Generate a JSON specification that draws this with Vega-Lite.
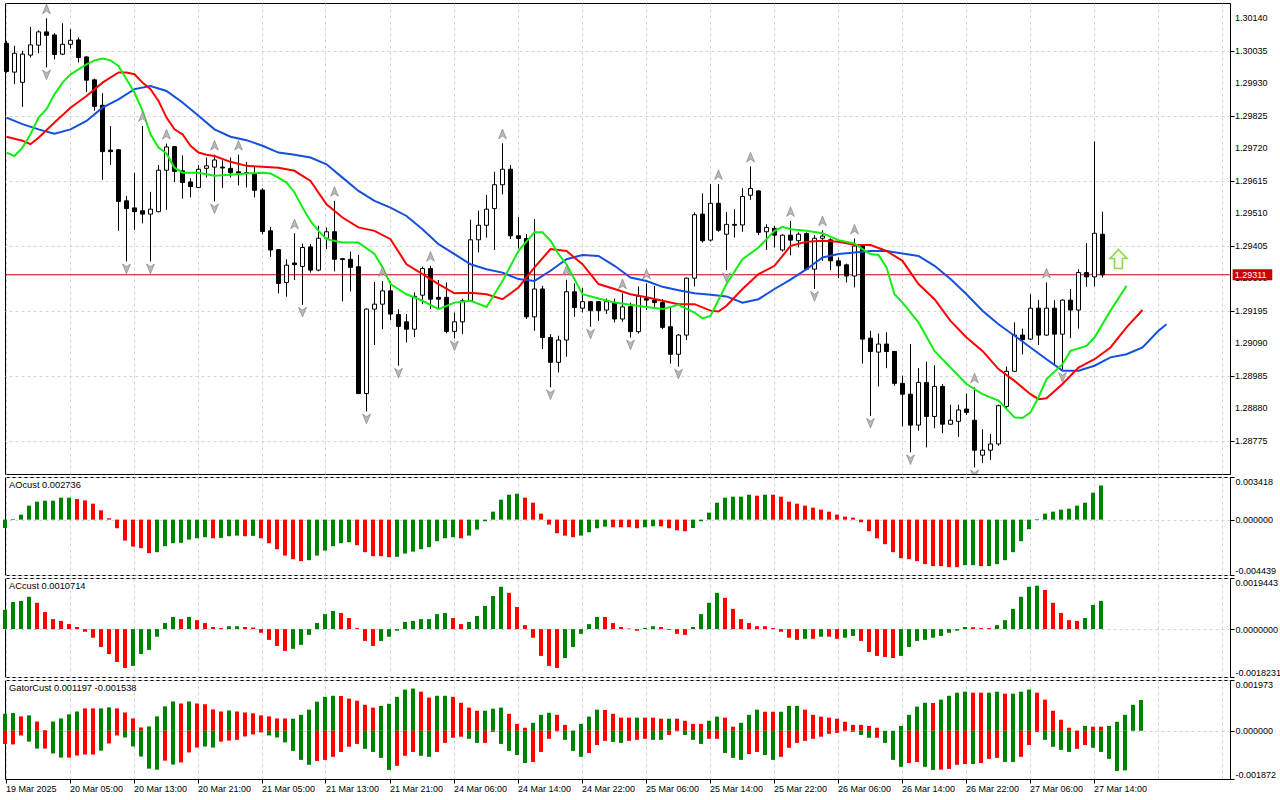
{
"$schema":"https://vega.github.io/schema/vega-lite/v6.json",
"background":"#ffffff",
"padding":{"left":2,"top":2,"right":0,"bottom":0},
"spacing":3,
"bounds":"flush",
"config":{"view":{"stroke":"#000000","strokeWidth":1},"scale":{"continuousPadding":0},"axis":{"labelFont":"Liberation Sans","labelFontSize":9,"labelColor":"#000000","labelOverlap":false,"gridColor":"#d4d4d4","gridDash":[3,3],"gridWidth":1,"tickColor":"#000000","domainColor":"#000000"}},
"datasets":{
"ylab":[{"p":1.28775},{"p":1.2888},{"p":1.28985},{"p":1.2909},{"p":1.29195},{"p":1.293},{"p":1.29405},{"p":1.2951},{"p":1.29615},{"p":1.2972},{"p":1.29825},{"p":1.2993},{"p":1.30035},{"p":1.3014}],
"bars":[
{"i":0,"o":1.30059,"h":1.30067,"l":1.29964,"c":1.29968},
{"i":1,"o":1.29966,"h":1.30051,"l":1.29927,"c":1.30027},
{"i":2,"o":1.29933,"h":1.30035,"l":1.29854,"c":1.30024},
{"i":3,"o":1.30021,"h":1.30112,"l":1.30013,"c":1.30054},
{"i":4,"o":1.30053,"h":1.30101,"l":1.30027,"c":1.30096},
{"i":5,"o":1.30096,"h":1.30140,"l":1.29981,"c":1.30085,"fu":1,"fd":1},
{"i":6,"o":1.30086,"h":1.30092,"l":1.30007,"c":1.30023},
{"i":7,"o":1.30024,"h":1.30124,"l":1.30021,"c":1.30056},
{"i":8,"o":1.30056,"h":1.30105,"l":1.30042,"c":1.30069},
{"i":9,"o":1.30070,"h":1.30078,"l":1.29997,"c":1.30013},
{"i":10,"o":1.30015,"h":1.30017,"l":1.29902,"c":1.29940},
{"i":11,"o":1.29941,"h":1.29945,"l":1.29841,"c":1.29855},
{"i":12,"o":1.29859,"h":1.29898,"l":1.29618,"c":1.29709},
{"i":13,"o":1.29714,"h":1.29792,"l":1.29666,"c":1.29709},
{"i":14,"o":1.29715,"h":1.29717,"l":1.29453,"c":1.29548},
{"i":15,"o":1.29550,"h":1.29566,"l":1.29354,"c":1.29525,"fd":1},
{"i":16,"o":1.29527,"h":1.29640,"l":1.29456,"c":1.29515},
{"i":17,"o":1.29518,"h":1.29792,"l":1.29477,"c":1.29507,"fu":1},
{"i":18,"o":1.29507,"h":1.29579,"l":1.29354,"c":1.29523,"fd":1},
{"i":19,"o":1.29515,"h":1.29666,"l":1.29513,"c":1.29649},
{"i":20,"o":1.29649,"h":1.29735,"l":1.29521,"c":1.29724,"fu":1},
{"i":21,"o":1.29725,"h":1.29727,"l":1.29611,"c":1.29645},
{"i":22,"o":1.29647,"h":1.29697,"l":1.29557,"c":1.29609},
{"i":23,"o":1.29611,"h":1.29623,"l":1.29561,"c":1.29596},
{"i":24,"o":1.29593,"h":1.29666,"l":1.29591,"c":1.29652},
{"i":25,"o":1.29655,"h":1.29690,"l":1.29625,"c":1.29663},
{"i":26,"o":1.29659,"h":1.29699,"l":1.29548,"c":1.29682,"fu":1,"fd":1},
{"i":27,"o":1.29659,"h":1.29681,"l":1.29591,"c":1.29656},
{"i":28,"o":1.29655,"h":1.29690,"l":1.29625,"c":1.29641},
{"i":29,"o":1.29644,"h":1.29699,"l":1.29600,"c":1.29639,"fu":1},
{"i":30,"o":1.29641,"h":1.29676,"l":1.29593,"c":1.29639},
{"i":31,"o":1.29636,"h":1.29662,"l":1.29561,"c":1.29584},
{"i":32,"o":1.29585,"h":1.29591,"l":1.29442,"c":1.29451},
{"i":33,"o":1.29453,"h":1.29466,"l":1.29369,"c":1.29391},
{"i":34,"o":1.29392,"h":1.29394,"l":1.29251,"c":1.29283},
{"i":35,"o":1.29286,"h":1.29361,"l":1.29240,"c":1.29342},
{"i":36,"o":1.29349,"h":1.29445,"l":1.29294,"c":1.29344,"fu":1},
{"i":37,"o":1.29338,"h":1.29412,"l":1.29214,"c":1.29399,"fd":1},
{"i":38,"o":1.29401,"h":1.29410,"l":1.29318,"c":1.29326},
{"i":39,"o":1.29326,"h":1.29469,"l":1.29322,"c":1.29429},
{"i":40,"o":1.29429,"h":1.29464,"l":1.29394,"c":1.29450},
{"i":41,"o":1.29450,"h":1.29550,"l":1.29322,"c":1.29361,"fu":1},
{"i":42,"o":1.29363,"h":1.29364,"l":1.29225,"c":1.29360},
{"i":43,"o":1.29361,"h":1.29386,"l":1.29257,"c":1.29335},
{"i":44,"o":1.29337,"h":1.29375,"l":1.28925,"c":1.28927},
{"i":45,"o":1.28927,"h":1.29202,"l":1.28869,"c":1.29200,"fd":1},
{"i":46,"o":1.29200,"h":1.29288,"l":1.29084,"c":1.29216},
{"i":47,"o":1.29216,"h":1.29291,"l":1.29135,"c":1.29259,"fu":1},
{"i":48,"o":1.29259,"h":1.29289,"l":1.29164,"c":1.29184},
{"i":49,"o":1.29182,"h":1.29200,"l":1.29017,"c":1.29144,"fd":1},
{"i":50,"o":1.29159,"h":1.29184,"l":1.29092,"c":1.29135},
{"i":51,"o":1.29135,"h":1.29254,"l":1.29110,"c":1.29241},
{"i":52,"o":1.29245,"h":1.29338,"l":1.29216,"c":1.29331},
{"i":53,"o":1.29331,"h":1.29340,"l":1.29200,"c":1.29232,"fu":1},
{"i":54,"o":1.29238,"h":1.29294,"l":1.29200,"c":1.29232},
{"i":55,"o":1.29238,"h":1.29286,"l":1.29122,"c":1.29128},
{"i":56,"o":1.29128,"h":1.29189,"l":1.29105,"c":1.29159,"fd":1},
{"i":57,"o":1.29159,"h":1.29234,"l":1.29119,"c":1.29227},
{"i":58,"o":1.29227,"h":1.29489,"l":1.29225,"c":1.29424},
{"i":59,"o":1.29424,"h":1.29518,"l":1.29383,"c":1.29471},
{"i":60,"o":1.29471,"h":1.29569,"l":1.29431,"c":1.29523},
{"i":61,"o":1.29525,"h":1.29644,"l":1.29391,"c":1.29602},
{"i":62,"o":1.29602,"h":1.29736,"l":1.29571,"c":1.29652,"fu":1},
{"i":63,"o":1.29652,"h":1.29666,"l":1.29426,"c":1.29437},
{"i":64,"o":1.29437,"h":1.29498,"l":1.29396,"c":1.29428},
{"i":65,"o":1.29428,"h":1.29442,"l":1.29168,"c":1.29175},
{"i":66,"o":1.29175,"h":1.29491,"l":1.29130,"c":1.29265},
{"i":67,"o":1.29265,"h":1.29275,"l":1.29071,"c":1.29108},
{"i":68,"o":1.29108,"h":1.29119,"l":1.28947,"c":1.29028,"fd":1},
{"i":69,"o":1.29028,"h":1.29114,"l":1.28995,"c":1.29100},
{"i":70,"o":1.29100,"h":1.29295,"l":1.29046,"c":1.29256,"fu":1},
{"i":71,"o":1.29256,"h":1.29283,"l":1.29175,"c":1.29205},
{"i":72,"o":1.29203,"h":1.29268,"l":1.29189,"c":1.29224},
{"i":73,"o":1.29224,"h":1.29226,"l":1.29143,"c":1.29195,"fd":1},
{"i":74,"o":1.29224,"h":1.29226,"l":1.29162,"c":1.29195},
{"i":75,"o":1.29197,"h":1.29234,"l":1.29184,"c":1.29224},
{"i":76,"o":1.29221,"h":1.29234,"l":1.29157,"c":1.29168},
{"i":77,"o":1.29168,"h":1.29251,"l":1.29159,"c":1.29207,"fu":1},
{"i":78,"o":1.29208,"h":1.29221,"l":1.29108,"c":1.29127,"fd":1},
{"i":79,"o":1.29127,"h":1.29273,"l":1.29121,"c":1.29241},
{"i":80,"o":1.29234,"h":1.29283,"l":1.29197,"c":1.29229,"fu":1},
{"i":81,"o":1.29229,"h":1.29275,"l":1.29207,"c":1.29221},
{"i":82,"o":1.29221,"h":1.29232,"l":1.29135,"c":1.29141},
{"i":83,"o":1.29143,"h":1.29207,"l":1.29024,"c":1.29054},
{"i":84,"o":1.29054,"h":1.29119,"l":1.29014,"c":1.29116,"fd":1},
{"i":85,"o":1.29116,"h":1.29302,"l":1.29100,"c":1.29300},
{"i":86,"o":1.29300,"h":1.29512,"l":1.29273,"c":1.29505},
{"i":87,"o":1.29507,"h":1.29574,"l":1.29415,"c":1.29421},
{"i":88,"o":1.29423,"h":1.29604,"l":1.29418,"c":1.29542},
{"i":89,"o":1.29542,"h":1.29604,"l":1.29450,"c":1.29455,"fu":1},
{"i":90,"o":1.29442,"h":1.29514,"l":1.29326,"c":1.29474,"fd":1},
{"i":91,"o":1.29474,"h":1.29523,"l":1.29431,"c":1.29471},
{"i":92,"o":1.29472,"h":1.29591,"l":1.29450,"c":1.29564},
{"i":93,"o":1.29568,"h":1.29661,"l":1.29553,"c":1.29590,"fu":1},
{"i":94,"o":1.29582,"h":1.29584,"l":1.29439,"c":1.29448},
{"i":95,"o":1.29450,"h":1.29474,"l":1.29391,"c":1.29464},
{"i":96,"o":1.29461,"h":1.29469,"l":1.29399,"c":1.29439},
{"i":97,"o":1.29391,"h":1.29442,"l":1.29386,"c":1.29439},
{"i":98,"o":1.29439,"h":1.29485,"l":1.29374,"c":1.29423,"fu":1},
{"i":99,"o":1.29421,"h":1.29448,"l":1.29399,"c":1.29442},
{"i":100,"o":1.29444,"h":1.29448,"l":1.29326,"c":1.29329},
{"i":101,"o":1.29329,"h":1.29439,"l":1.29265,"c":1.29429,"fd":1},
{"i":102,"o":1.29429,"h":1.29455,"l":1.29356,"c":1.29436,"fu":1},
{"i":103,"o":1.29424,"h":1.29429,"l":1.29326,"c":1.29356},
{"i":104,"o":1.29356,"h":1.29367,"l":1.29300,"c":1.29340},
{"i":105,"o":1.29343,"h":1.29347,"l":1.29286,"c":1.29307},
{"i":106,"o":1.29307,"h":1.29428,"l":1.29270,"c":1.29404,"fu":1},
{"i":107,"o":1.29404,"h":1.29407,"l":1.29024,"c":1.29103},
{"i":108,"o":1.29106,"h":1.29130,"l":1.28855,"c":1.29063,"fd":1},
{"i":109,"o":1.29061,"h":1.29121,"l":1.28950,"c":1.29087},
{"i":110,"o":1.29087,"h":1.29125,"l":1.29009,"c":1.29063},
{"i":111,"o":1.29063,"h":1.29065,"l":1.28952,"c":1.28960},
{"i":112,"o":1.28960,"h":1.28985,"l":1.28821,"c":1.28925},
{"i":113,"o":1.28925,"h":1.29087,"l":1.28737,"c":1.28825,"fd":1},
{"i":114,"o":1.28825,"h":1.29009,"l":1.28807,"c":1.28963},
{"i":115,"o":1.28963,"h":1.29030,"l":1.28753,"c":1.28853},
{"i":116,"o":1.28853,"h":1.29019,"l":1.28815,"c":1.28950},
{"i":117,"o":1.28950,"h":1.28958,"l":1.28799,"c":1.28828},
{"i":118,"o":1.28828,"h":1.28891,"l":1.28826,"c":1.28841},
{"i":119,"o":1.28837,"h":1.28891,"l":1.28787,"c":1.28874},
{"i":120,"o":1.28877,"h":1.28927,"l":1.28858,"c":1.28866},
{"i":121,"o":1.28841,"h":1.28947,"l":1.28688,"c":1.28744,"fu":1,"fd":1},
{"i":122,"o":1.28728,"h":1.28812,"l":1.28702,"c":1.28744},
{"i":123,"o":1.28744,"h":1.28796,"l":1.28712,"c":1.28764},
{"i":124,"o":1.28764,"h":1.28891,"l":1.28758,"c":1.28888},
{"i":125,"o":1.28885,"h":1.29014,"l":1.28880,"c":1.28999},
{"i":126,"o":1.28999,"h":1.29157,"l":1.28997,"c":1.29116},
{"i":127,"o":1.29116,"h":1.29137,"l":1.29054,"c":1.29101},
{"i":128,"o":1.29103,"h":1.29248,"l":1.29101,"c":1.29203},
{"i":129,"o":1.29203,"h":1.29230,"l":1.29084,"c":1.29116},
{"i":130,"o":1.29116,"h":1.29286,"l":1.29114,"c":1.29203,"fu":1},
{"i":131,"o":1.29203,"h":1.29229,"l":1.29022,"c":1.29119},
{"i":132,"o":1.29119,"h":1.29232,"l":1.29003,"c":1.29229,"fd":1},
{"i":133,"o":1.29229,"h":1.29265,"l":1.29106,"c":1.29197},
{"i":134,"o":1.29197,"h":1.29329,"l":1.29137,"c":1.29318},
{"i":135,"o":1.29318,"h":1.29413,"l":1.29272,"c":1.29304},
{"i":136,"o":1.29304,"h":1.29742,"l":1.29273,"c":1.29445},
{"i":137,"o":1.29442,"h":1.29515,"l":1.29302,"c":1.29311}
],
"jaw":[
{"i":0,"v":1.29819},{"i":2,"v":1.29798},{"i":4,"v":1.29781},{"i":6,"v":1.29767},{"i":8,"v":1.29781},{"i":10,"v":1.29808},{"i":12,"v":1.29851},{"i":14,"v":1.29878},{"i":16,"v":1.29911},{"i":18,"v":1.29921},{"i":20,"v":1.29905},{"i":22,"v":1.29868},{"i":24,"v":1.29825},{"i":26,"v":1.29781},{"i":28,"v":1.29757},{"i":30,"v":1.29746},{"i":32,"v":1.29728},{"i":34,"v":1.29706},{"i":36,"v":1.29699},{"i":38,"v":1.29690},{"i":40,"v":1.29668},{"i":42,"v":1.29625},{"i":44,"v":1.29582},{"i":46,"v":1.29550},{"i":48,"v":1.29528},{"i":50,"v":1.29501},{"i":52,"v":1.29458},{"i":54,"v":1.29410},{"i":56,"v":1.29378},{"i":58,"v":1.29345},{"i":60,"v":1.29329},{"i":62,"v":1.29318},{"i":64,"v":1.29297},{"i":66,"v":1.29291},{"i":68,"v":1.29324},{"i":70,"v":1.29361},{"i":72,"v":1.29375},{"i":74,"v":1.29372},{"i":76,"v":1.29340},{"i":78,"v":1.29302},{"i":80,"v":1.29291},{"i":82,"v":1.29272},{"i":84,"v":1.29261},{"i":86,"v":1.29251},{"i":88,"v":1.29246},{"i":90,"v":1.29241},{"i":92,"v":1.29221},{"i":94,"v":1.29232},{"i":96,"v":1.29265},{"i":98,"v":1.29295},{"i":100,"v":1.29329},{"i":102,"v":1.29367},{"i":104,"v":1.29378},{"i":106,"v":1.29383},{"i":108,"v":1.29388},{"i":110,"v":1.29388},{"i":112,"v":1.29380},{"i":114,"v":1.29372},{"i":116,"v":1.29340},{"i":118,"v":1.29297},{"i":120,"v":1.29248},{"i":122,"v":1.29195},{"i":124,"v":1.29151},{"i":126,"v":1.29114},{"i":128,"v":1.29076},{"i":130,"v":1.29038},{"i":132,"v":1.29001},{"i":134,"v":1.29001},{"i":136,"v":1.29017},{"i":138,"v":1.29044},{"i":140,"v":1.29054},{"i":142,"v":1.29076},{"i":144,"v":1.29130},{"i":145,"v":1.29151}
],
"teeth":[
{"i":0,"v":1.29757},{"i":2,"v":1.29744},{"i":3,"v":1.29733},{"i":4,"v":1.29754},{"i":6,"v":1.29803},{"i":8,"v":1.29851},{"i":10,"v":1.29889},{"i":12,"v":1.29932},{"i":14,"v":1.29965},{"i":15,"v":1.29965},{"i":16,"v":1.29959},{"i":17,"v":1.29932},{"i":18,"v":1.29911},{"i":19,"v":1.29873},{"i":20,"v":1.29819},{"i":21,"v":1.29781},{"i":22,"v":1.29765},{"i":23,"v":1.29728},{"i":24,"v":1.29706},{"i":25,"v":1.29699},{"i":26,"v":1.29695},{"i":28,"v":1.29676},{"i":30,"v":1.29663},{"i":32,"v":1.29660},{"i":34,"v":1.29657},{"i":36,"v":1.29647},{"i":38,"v":1.29614},{"i":40,"v":1.29539},{"i":42,"v":1.29496},{"i":44,"v":1.29464},{"i":46,"v":1.29453},{"i":48,"v":1.29426},{"i":50,"v":1.29345},{"i":52,"v":1.29313},{"i":54,"v":1.29281},{"i":56,"v":1.29251},{"i":58,"v":1.29253},{"i":60,"v":1.29248},{"i":62,"v":1.29232},{"i":64,"v":1.29270},{"i":66,"v":1.29335},{"i":68,"v":1.29394},{"i":70,"v":1.29388},{"i":72,"v":1.29345},{"i":74,"v":1.29281},{"i":76,"v":1.29265},{"i":78,"v":1.29248},{"i":80,"v":1.29238},{"i":82,"v":1.29227},{"i":84,"v":1.29216},{"i":86,"v":1.29216},{"i":88,"v":1.29195},{"i":89,"v":1.29192},{"i":90,"v":1.29211},{"i":92,"v":1.29265},{"i":94,"v":1.29313},{"i":96,"v":1.29340},{"i":98,"v":1.29404},{"i":100,"v":1.29418},{"i":102,"v":1.29421},{"i":104,"v":1.29418},{"i":106,"v":1.29408},{"i":108,"v":1.29407},{"i":110,"v":1.29388},{"i":112,"v":1.29356},{"i":114,"v":1.29281},{"i":116,"v":1.29232},{"i":118,"v":1.29162},{"i":120,"v":1.29108},{"i":122,"v":1.29065},{"i":124,"v":1.29006},{"i":126,"v":1.28968},{"i":128,"v":1.28925},{"i":129,"v":1.28909},{"i":130,"v":1.28912},{"i":132,"v":1.28958},{"i":134,"v":1.29011},{"i":136,"v":1.29038},{"i":138,"v":1.29076},{"i":140,"v":1.29141},{"i":142,"v":1.29197}
],
"lips":[
{"i":0,"v":1.29706},{"i":1,"v":1.29695},{"i":2,"v":1.29722},{"i":3,"v":1.29765},{"i":4,"v":1.29819},{"i":5,"v":1.29846},{"i":6,"v":1.29894},{"i":7,"v":1.29932},{"i":8,"v":1.29959},{"i":9,"v":1.29975},{"i":10,"v":1.29991},{"i":11,"v":1.30004},{"i":12,"v":1.30010},{"i":13,"v":1.30004},{"i":14,"v":1.29986},{"i":15,"v":1.29943},{"i":16,"v":1.29900},{"i":17,"v":1.29841},{"i":18,"v":1.29765},{"i":19,"v":1.29722},{"i":20,"v":1.29703},{"i":21,"v":1.29657},{"i":22,"v":1.29641},{"i":24,"v":1.29641},{"i":25,"v":1.29636},{"i":26,"v":1.29631},{"i":28,"v":1.29634},{"i":30,"v":1.29638},{"i":32,"v":1.29641},{"i":33,"v":1.29638},{"i":34,"v":1.29625},{"i":35,"v":1.29609},{"i":36,"v":1.29577},{"i":37,"v":1.29528},{"i":38,"v":1.29485},{"i":39,"v":1.29453},{"i":40,"v":1.29426},{"i":42,"v":1.29415},{"i":44,"v":1.29415},{"i":46,"v":1.29378},{"i":47,"v":1.29335},{"i":48,"v":1.29281},{"i":50,"v":1.29248},{"i":52,"v":1.29227},{"i":54,"v":1.29200},{"i":56,"v":1.29221},{"i":58,"v":1.29227},{"i":60,"v":1.29207},{"i":62,"v":1.29291},{"i":64,"v":1.29388},{"i":66,"v":1.29448},{"i":67,"v":1.29448},{"i":68,"v":1.29421},{"i":69,"v":1.29378},{"i":70,"v":1.29345},{"i":72,"v":1.29248},{"i":74,"v":1.29234},{"i":76,"v":1.29221},{"i":78,"v":1.29214},{"i":80,"v":1.29207},{"i":82,"v":1.29200},{"i":84,"v":1.29214},{"i":86,"v":1.29189},{"i":87,"v":1.29170},{"i":88,"v":1.29178},{"i":90,"v":1.29281},{"i":92,"v":1.29361},{"i":94,"v":1.29399},{"i":96,"v":1.29453},{"i":97,"v":1.29466},{"i":98,"v":1.29458},{"i":100,"v":1.29453},{"i":102,"v":1.29445},{"i":104,"v":1.29423},{"i":106,"v":1.29412},{"i":107,"v":1.29394},{"i":108,"v":1.29378},{"i":109,"v":1.29375},{"i":110,"v":1.29335},{"i":111,"v":1.29248},{"i":112,"v":1.29221},{"i":114,"v":1.29157},{"i":116,"v":1.29065},{"i":118,"v":1.29011},{"i":120,"v":1.28958},{"i":122,"v":1.28925},{"i":124,"v":1.28904},{"i":126,"v":1.28850},{"i":127,"v":1.28848},{"i":128,"v":1.28866},{"i":129,"v":1.28915},{"i":130,"v":1.28974},{"i":132,"v":1.29022},{"i":133,"v":1.29065},{"i":135,"v":1.29081},{"i":136,"v":1.29108},{"i":138,"v":1.29195},{"i":140,"v":1.29275}
],
"osc":[
{"i":0,"ao":-0.00067,"a1":"g","ac":0.00073,"a2":"g","gu":0.00066,"g1":"g","gd":-0.00051,"g2":"r"},
{"i":1,"ao":0.00005,"a1":"g","ac":0.00103,"a2":"g","gu":0.00069,"g1":"g","gd":-0.00053,"g2":"r"},
{"i":2,"ao":0.0004,"a1":"g","ac":0.00107,"a2":"g","gu":0.00056,"g1":"r","gd":-0.00018,"g2":"r"},
{"i":3,"ao":0.00112,"a1":"g","ac":0.00123,"a2":"g","gu":0.0006,"g1":"g","gd":-0.00042,"g2":"g"},
{"i":4,"ao":0.00144,"a1":"g","ac":0.001,"a2":"r","gu":0.00036,"g1":"r","gd":-0.00069,"g2":"g"},
{"i":5,"ao":0.00152,"a1":"g","ac":0.00065,"a2":"r","gu":0.00003,"g1":"r","gd":-0.00069,"g2":"r"},
{"i":6,"ao":0.00152,"a1":"g","ac":0.00038,"a2":"r","gu":0.00036,"g1":"g","gd":-0.00088,"g2":"g"},
{"i":7,"ao":0.00176,"a1":"g","ac":0.00031,"a2":"r","gu":0.00048,"g1":"g","gd":-0.00104,"g2":"g"},
{"i":8,"ao":0.00176,"a1":"g","ac":0.00019,"a2":"r","gu":0.00064,"g1":"g","gd":-0.00104,"g2":"r"},
{"i":9,"ao":0.00165,"a1":"r","ac":0.00008,"a2":"r","gu":0.00075,"g1":"g","gd":-0.00096,"g2":"r"},
{"i":10,"ao":0.00154,"a1":"r","ac":-0.0001,"a2":"r","gu":0.00087,"g1":"r","gd":-0.00092,"g2":"r"},
{"i":11,"ao":0.00128,"a1":"r","ac":-0.00033,"a2":"r","gu":0.00087,"g1":"r","gd":-0.00092,"g2":"r"},
{"i":12,"ao":0.00075,"a1":"r","ac":-0.00068,"a2":"r","gu":0.00087,"g1":"g","gd":-0.00077,"g2":"g"},
{"i":13,"ao":0.00011,"a1":"r","ac":-0.00095,"a2":"r","gu":0.00091,"g1":"g","gd":-0.00049,"g2":"r"},
{"i":14,"ao":-0.00069,"a1":"r","ac":-0.00125,"a2":"r","gu":0.00087,"g1":"r","gd":-0.00018,"g2":"r"},
{"i":15,"ao":-0.00168,"a1":"r","ac":-0.00148,"a2":"r","gu":0.00071,"g1":"r","gd":-0.00026,"g2":"g"},
{"i":16,"ao":-0.00216,"a1":"r","ac":-0.0014,"a2":"g","gu":0.00048,"g1":"r","gd":-0.00061,"g2":"g"},
{"i":17,"ao":-0.00229,"a1":"r","ac":-0.00095,"a2":"g","gu":0.00013,"g1":"r","gd":-0.001,"g2":"g"},
{"i":18,"ao":-0.00269,"a1":"r","ac":-0.00079,"a2":"g","gu":0.00017,"g1":"g","gd":-0.00147,"g2":"g"},
{"i":19,"ao":-0.00261,"a1":"g","ac":-0.00029,"a2":"g","gu":0.00056,"g1":"g","gd":-0.00151,"g2":"g"},
{"i":20,"ao":-0.00213,"a1":"g","ac":0.00023,"a2":"g","gu":0.00095,"g1":"g","gd":-0.00116,"g2":"r"},
{"i":21,"ao":-0.00189,"a1":"g","ac":0.00046,"a2":"g","gu":0.00114,"g1":"g","gd":-0.00131,"g2":"g"},
{"i":22,"ao":-0.00186,"a1":"g","ac":0.00038,"a2":"r","gu":0.00106,"g1":"r","gd":-0.00123,"g2":"r"},
{"i":23,"ao":-0.0016,"a1":"g","ac":0.00046,"a2":"g","gu":0.00114,"g1":"g","gd":-0.00084,"g2":"r"},
{"i":24,"ao":-0.00149,"a1":"g","ac":0.00034,"a2":"r","gu":0.00106,"g1":"r","gd":-0.00065,"g2":"r"},
{"i":25,"ao":-0.00141,"a1":"g","ac":0.00023,"a2":"r","gu":0.00103,"g1":"r","gd":-0.00061,"g2":"g"},
{"i":26,"ao":-0.00149,"a1":"r","ac":0.00008,"a2":"r","gu":0.00083,"g1":"r","gd":-0.00065,"g2":"g"},
{"i":27,"ao":-0.00146,"a1":"g","ac":0.00004,"a2":"r","gu":0.00075,"g1":"r","gd":-0.00042,"g2":"r"},
{"i":28,"ao":-0.00133,"a1":"g","ac":0.00011,"a2":"g","gu":0.00079,"g1":"g","gd":-0.00038,"g2":"r"},
{"i":29,"ao":-0.00128,"a1":"g","ac":0.00011,"a2":"g","gu":0.00075,"g1":"r","gd":-0.00035,"g2":"r"},
{"i":30,"ao":-0.00133,"a1":"r","ac":0.00008,"a2":"r","gu":0.00071,"g1":"r","gd":-0.00022,"g2":"r"},
{"i":31,"ao":-0.0013,"a1":"g","ac":0.00006,"a2":"r","gu":0.00068,"g1":"r","gd":-0.00014,"g2":"r"},
{"i":32,"ao":-0.00149,"a1":"r","ac":-0.00014,"a2":"r","gu":0.0006,"g1":"r","gd":-0.00006,"g2":"r"},
{"i":33,"ao":-0.00189,"a1":"r","ac":-0.00041,"a2":"r","gu":0.00056,"g1":"r","gd":-0.00018,"g2":"g"},
{"i":34,"ao":-0.00237,"a1":"r","ac":-0.00064,"a2":"r","gu":0.00048,"g1":"r","gd":-0.00026,"g2":"g"},
{"i":35,"ao":-0.00288,"a1":"r","ac":-0.00083,"a2":"r","gu":0.00048,"g1":"r","gd":-0.00045,"g2":"g"},
{"i":36,"ao":-0.00317,"a1":"r","ac":-0.00075,"a2":"g","gu":0.00047,"g1":"g","gd":-0.00078,"g2":"g"},
{"i":37,"ao":-0.00333,"a1":"r","ac":-0.0006,"a2":"g","gu":0.00062,"g1":"g","gd":-0.00113,"g2":"g"},
{"i":38,"ao":-0.00325,"a1":"g","ac":-0.00022,"a2":"g","gu":0.00082,"g1":"g","gd":-0.00132,"g2":"g"},
{"i":39,"ao":-0.00288,"a1":"g","ac":0.00023,"a2":"g","gu":0.00113,"g1":"g","gd":-0.00117,"g2":"r"},
{"i":40,"ao":-0.00248,"a1":"g","ac":0.00057,"a2":"g","gu":0.00132,"g1":"g","gd":-0.00113,"g2":"r"},
{"i":41,"ao":-0.00213,"a1":"g","ac":0.00069,"a2":"g","gu":0.00136,"g1":"g","gd":-0.00101,"g2":"r"},
{"i":42,"ao":-0.00189,"a1":"g","ac":0.00061,"a2":"r","gu":0.00135,"g1":"r","gd":-0.00082,"g2":"r"},
{"i":43,"ao":-0.00181,"a1":"g","ac":0.00042,"a2":"r","gu":0.00125,"g1":"r","gd":-0.00062,"g2":"r"},
{"i":44,"ao":-0.00205,"a1":"r","ac":0.00004,"a2":"r","gu":0.00117,"g1":"r","gd":-0.00051,"g2":"r"},
{"i":45,"ao":-0.00261,"a1":"r","ac":-0.00045,"a2":"r","gu":0.00101,"g1":"r","gd":-0.0007,"g2":"g"},
{"i":46,"ao":-0.00293,"a1":"r","ac":-0.00064,"a2":"r","gu":0.0009,"g1":"r","gd":-0.00082,"g2":"g"},
{"i":47,"ao":-0.00293,"a1":"r","ac":-0.00045,"a2":"g","gu":0.00097,"g1":"g","gd":-0.00105,"g2":"g"},
{"i":48,"ao":-0.00301,"a1":"r","ac":-0.00029,"a2":"g","gu":0.00105,"g1":"g","gd":-0.00152,"g2":"g"},
{"i":49,"ao":-0.00298,"a1":"g","ac":-0.00006,"a2":"g","gu":0.00132,"g1":"g","gd":-0.00136,"g2":"r"},
{"i":50,"ao":-0.00272,"a1":"g","ac":0.00027,"a2":"g","gu":0.0016,"g1":"g","gd":-0.00097,"g2":"r"},
{"i":51,"ao":-0.00256,"a1":"g","ac":0.00031,"a2":"g","gu":0.00164,"g1":"g","gd":-0.00082,"g2":"r"},
{"i":52,"ao":-0.00237,"a1":"g","ac":0.00038,"a2":"g","gu":0.00152,"g1":"r","gd":-0.00097,"g2":"g"},
{"i":53,"ao":-0.00221,"a1":"g","ac":0.00038,"a2":"g","gu":0.00129,"g1":"r","gd":-0.00101,"g2":"g"},
{"i":54,"ao":-0.00173,"a1":"g","ac":0.00057,"a2":"g","gu":0.00136,"g1":"g","gd":-0.00082,"g2":"r"},
{"i":55,"ao":-0.00149,"a1":"g","ac":0.00061,"a2":"g","gu":0.00136,"g1":"g","gd":-0.00047,"g2":"r"},
{"i":56,"ao":-0.00141,"a1":"g","ac":0.00042,"a2":"r","gu":0.00132,"g1":"r","gd":-0.00027,"g2":"r"},
{"i":57,"ao":-0.00149,"a1":"r","ac":0.00019,"a2":"r","gu":0.00109,"g1":"r","gd":-0.00023,"g2":"r"},
{"i":58,"ao":-0.00128,"a1":"g","ac":0.00027,"a2":"g","gu":0.0009,"g1":"r","gd":-0.00031,"g2":"g"},
{"i":59,"ao":-0.0008,"a1":"g","ac":0.0005,"a2":"g","gu":0.00078,"g1":"r","gd":-0.00047,"g2":"g"},
{"i":60,"ao":-0.00013,"a1":"g","ac":0.00088,"a2":"g","gu":0.00078,"g1":"g","gd":-0.00047,"g2":"r"},
{"i":61,"ao":0.00064,"a1":"g","ac":0.00126,"a2":"g","gu":0.00086,"g1":"g","gd":-0.00004,"g2":"r"},
{"i":62,"ao":0.0016,"a1":"g","ac":0.00161,"a2":"g","gu":0.0009,"g1":"g","gd":-0.00051,"g2":"g"},
{"i":63,"ao":0.002,"a1":"g","ac":0.00138,"a2":"r","gu":0.00066,"g1":"r","gd":-0.00078,"g2":"g"},
{"i":64,"ao":0.00208,"a1":"g","ac":0.00084,"a2":"r","gu":0.00027,"g1":"r","gd":-0.00094,"g2":"g"},
{"i":65,"ao":0.00176,"a1":"r","ac":0.00015,"a2":"r","gu":0.00012,"g1":"r","gd":-0.00125,"g2":"g"},
{"i":66,"ao":0.00136,"a1":"r","ac":-0.00033,"a2":"r","gu":0.00031,"g1":"g","gd":-0.00121,"g2":"r"},
{"i":67,"ao":0.00048,"a1":"r","ac":-0.00102,"a2":"r","gu":0.00062,"g1":"g","gd":-0.00082,"g2":"r"},
{"i":68,"ao":-0.0004,"a1":"r","ac":-0.0014,"a2":"r","gu":0.0007,"g1":"g","gd":-0.00031,"g2":"r"},
{"i":69,"ao":-0.00109,"a1":"r","ac":-0.00148,"a2":"r","gu":0.00062,"g1":"r","gd":-0.00002,"g2":"r"},
{"i":70,"ao":-0.00128,"a1":"r","ac":-0.0011,"a2":"g","gu":0.00023,"g1":"r","gd":-0.00035,"g2":"g"},
{"i":71,"ao":-0.00141,"a1":"r","ac":-0.00068,"a2":"g","gu":0.00001,"g1":"r","gd":-0.00078,"g2":"g"},
{"i":72,"ao":-0.00128,"a1":"g","ac":-0.00018,"a2":"g","gu":0.00027,"g1":"g","gd":-0.00101,"g2":"g"},
{"i":73,"ao":-0.00101,"a1":"g","ac":0.00019,"a2":"g","gu":0.00055,"g1":"g","gd":-0.00086,"g2":"r"},
{"i":74,"ao":-0.00069,"a1":"g","ac":0.00046,"a2":"g","gu":0.00082,"g1":"g","gd":-0.00055,"g2":"r"},
{"i":75,"ao":-0.00056,"a1":"g","ac":0.00046,"a2":"r","gu":0.00081,"g1":"r","gd":-0.00039,"g2":"r"},
{"i":76,"ao":-0.00061,"a1":"r","ac":0.00023,"a2":"r","gu":0.00066,"g1":"r","gd":-0.00043,"g2":"g"},
{"i":77,"ao":-0.00061,"a1":"r","ac":0.00008,"a2":"r","gu":0.00051,"g1":"r","gd":-0.00047,"g2":"g"},
{"i":78,"ao":-0.00061,"a1":"r","ac":0.00002,"a2":"r","gu":0.00051,"g1":"r","gd":-0.00039,"g2":"r"},
{"i":79,"ao":-0.00069,"a1":"r","ac":-0.00006,"a2":"r","gu":0.00051,"g1":"g","gd":-0.00035,"g2":"r"},
{"i":80,"ao":-0.00061,"a1":"g","ac":0.00004,"a2":"g","gu":0.00051,"g1":"r","gd":-0.00031,"g2":"r"},
{"i":81,"ao":-0.00053,"a1":"g","ac":0.00011,"a2":"g","gu":0.00051,"g1":"r","gd":-0.00035,"g2":"g"},
{"i":82,"ao":-0.00053,"a1":"r","ac":0.00008,"a2":"r","gu":0.00047,"g1":"r","gd":-0.00035,"g2":"g"},
{"i":83,"ao":-0.00069,"a1":"r","ac":-0.00003,"a2":"r","gu":0.00047,"g1":"g","gd":-0.00016,"g2":"r"},
{"i":84,"ao":-0.00085,"a1":"r","ac":-0.00018,"a2":"r","gu":0.00047,"g1":"r","gd":-0.00001,"g2":"r"},
{"i":85,"ao":-0.00093,"a1":"r","ac":-0.00022,"a2":"r","gu":0.00039,"g1":"r","gd":-0.00016,"g2":"g"},
{"i":86,"ao":-0.00067,"a1":"g","ac":0.00008,"a2":"g","gu":0.00027,"g1":"r","gd":-0.00035,"g2":"g"},
{"i":87,"ao":-0.00013,"a1":"g","ac":0.00057,"a2":"g","gu":0.00027,"g1":"r","gd":-0.00051,"g2":"g"},
{"i":88,"ao":0.00056,"a1":"g","ac":0.001,"a2":"g","gu":0.00039,"g1":"g","gd":-0.00031,"g2":"r"},
{"i":89,"ao":0.00136,"a1":"g","ac":0.00138,"a2":"g","gu":0.00055,"g1":"g","gd":-0.00031,"g2":"r"},
{"i":90,"ao":0.00176,"a1":"g","ac":0.00119,"a2":"r","gu":0.00051,"g1":"r","gd":-0.00086,"g2":"g"},
{"i":91,"ao":0.00184,"a1":"g","ac":0.00077,"a2":"r","gu":0.00016,"g1":"r","gd":-0.00105,"g2":"g"},
{"i":92,"ao":0.00184,"a1":"g","ac":0.00038,"a2":"r","gu":0.00031,"g1":"g","gd":-0.00113,"g2":"g"},
{"i":93,"ao":0.002,"a1":"g","ac":0.00023,"a2":"r","gu":0.00062,"g1":"g","gd":-0.0009,"g2":"r"},
{"i":94,"ao":0.00192,"a1":"r","ac":0.00011,"a2":"r","gu":0.00082,"g1":"g","gd":-0.00082,"g2":"r"},
{"i":95,"ao":0.002,"a1":"g","ac":0.00011,"a2":"r","gu":0.00074,"g1":"r","gd":-0.00094,"g2":"g"},
{"i":96,"ao":0.002,"a1":"r","ac":0.00004,"a2":"r","gu":0.00074,"g1":"r","gd":-0.00113,"g2":"g"},
{"i":97,"ao":0.00184,"a1":"r","ac":-0.0001,"a2":"r","gu":0.00074,"g1":"g","gd":-0.00101,"g2":"r"},
{"i":98,"ao":0.00144,"a1":"r","ac":-0.00033,"a2":"r","gu":0.00097,"g1":"g","gd":-0.00066,"g2":"r"},
{"i":99,"ao":0.00128,"a1":"r","ac":-0.00041,"a2":"r","gu":0.00097,"g1":"g","gd":-0.00047,"g2":"r"},
{"i":100,"ao":0.00112,"a1":"r","ac":-0.00037,"a2":"g","gu":0.00082,"g1":"r","gd":-0.00039,"g2":"r"},
{"i":101,"ao":0.00096,"a1":"r","ac":-0.00037,"a2":"r","gu":0.00062,"g1":"r","gd":-0.00031,"g2":"r"},
{"i":102,"ao":0.0008,"a1":"r","ac":-0.00029,"a2":"g","gu":0.00055,"g1":"r","gd":-0.00023,"g2":"r"},
{"i":103,"ao":0.00064,"a1":"r","ac":-0.00029,"a2":"r","gu":0.00051,"g1":"r","gd":-0.00012,"g2":"r"},
{"i":104,"ao":0.0004,"a1":"r","ac":-0.00037,"a2":"r","gu":0.00047,"g1":"r","gd":-0.00008,"g2":"r"},
{"i":105,"ao":0.00024,"a1":"r","ac":-0.00033,"a2":"g","gu":0.00035,"g1":"r","gd":-0.00001,"g2":"g"},
{"i":106,"ao":0.00016,"a1":"r","ac":-0.00026,"a2":"g","gu":0.00023,"g1":"r","gd":-0.00004,"g2":"g"},
{"i":107,"ao":-0.00021,"a1":"r","ac":-0.00045,"a2":"r","gu":0.00023,"g1":"r","gd":-0.00016,"g2":"g"},
{"i":108,"ao":-0.00093,"a1":"r","ac":-0.00087,"a2":"r","gu":0.00019,"g1":"r","gd":-0.00027,"g2":"g"},
{"i":109,"ao":-0.00149,"a1":"r","ac":-0.00102,"a2":"r","gu":0.00012,"g1":"r","gd":-0.00027,"g2":"r"},
{"i":110,"ao":-0.00197,"a1":"r","ac":-0.00106,"a2":"r","gd":-0.00047,"g2":"g"},
{"i":111,"ao":-0.00261,"a1":"r","ac":-0.0011,"a2":"r","gd":-0.00113,"g2":"g"},
{"i":112,"ao":-0.00309,"a1":"r","ac":-0.00102,"a2":"g","gu":0.00019,"g1":"g","gd":-0.0014,"g2":"g"},
{"i":113,"ao":-0.00317,"a1":"r","ac":-0.00068,"a2":"g","gu":0.00062,"g1":"g","gd":-0.00125,"g2":"r"},
{"i":114,"ao":-0.00333,"a1":"r","ac":-0.00045,"a2":"g","gu":0.00094,"g1":"g","gd":-0.00121,"g2":"r"},
{"i":115,"ao":-0.00357,"a1":"r","ac":-0.00041,"a2":"g","gu":0.00109,"g1":"g","gd":-0.0014,"g2":"g"},
{"i":116,"ao":-0.00373,"a1":"r","ac":-0.00033,"a2":"g","gu":0.00108,"g1":"r","gd":-0.00152,"g2":"g"},
{"i":117,"ao":-0.00373,"a1":"r","ac":-0.00026,"a2":"g","gu":0.00121,"g1":"g","gd":-0.00151,"g2":"r"},
{"i":118,"ao":-0.00381,"a1":"r","ac":-0.00014,"a2":"g","gu":0.00136,"g1":"g","gd":-0.00148,"g2":"r"},
{"i":119,"ao":-0.00381,"a1":"r","ac":-0.00006,"a2":"g","gu":0.00148,"g1":"g","gd":-0.00132,"g2":"r"},
{"i":120,"ao":-0.00365,"a1":"g","ac":0.00008,"a2":"g","gu":0.00152,"g1":"g","gd":-0.00129,"g2":"r"},
{"i":121,"ao":-0.00365,"a1":"g","ac":0.00007,"a2":"r","gu":0.00148,"g1":"r","gd":-0.00129,"g2":"g"},
{"i":122,"ao":-0.00373,"a1":"r","ac":0.00004,"a2":"r","gu":0.00148,"g1":"r","gd":-0.00125,"g2":"r"},
{"i":123,"ao":-0.00373,"a1":"g","ac":0.00004,"a2":"r","gu":0.00148,"g1":"g","gd":-0.00109,"g2":"r"},
{"i":124,"ao":-0.00357,"a1":"g","ac":0.00015,"a2":"g","gu":0.00152,"g1":"g","gd":-0.00105,"g2":"r"},
{"i":125,"ao":-0.00325,"a1":"g","ac":0.00034,"a2":"g","gu":0.00144,"g1":"r","gd":-0.00121,"g2":"g"},
{"i":126,"ao":-0.00261,"a1":"g","ac":0.00077,"a2":"g","gu":0.00144,"g1":"g","gd":-0.00121,"g2":"g"},
{"i":127,"ao":-0.00173,"a1":"g","ac":0.00123,"a2":"g","gu":0.00152,"g1":"g","gd":-0.00101,"g2":"r"},
{"i":128,"ao":-0.00077,"a1":"g","ac":0.00161,"a2":"g","gu":0.0016,"g1":"g","gd":-0.00055,"g2":"r"},
{"i":129,"ao":0.00005,"a1":"g","ac":0.00165,"a2":"g","gu":0.00148,"g1":"r","gd":-0.00004,"g2":"r"},
{"i":130,"ao":0.00048,"a1":"g","ac":0.00149,"a2":"r","gu":0.00121,"g1":"r","gd":-0.00035,"g2":"g"},
{"i":131,"ao":0.00064,"a1":"g","ac":0.001,"a2":"r","gu":0.00078,"g1":"r","gd":-0.00062,"g2":"g"},
{"i":132,"ao":0.0008,"a1":"g","ac":0.00061,"a2":"r","gu":0.00043,"g1":"r","gd":-0.00074,"g2":"g"},
{"i":133,"ao":0.00088,"a1":"g","ac":0.00034,"a2":"r","gu":0.00012,"g1":"r","gd":-0.00082,"g2":"g"},
{"i":134,"ao":0.00112,"a1":"g","ac":0.00031,"a2":"r","gu":0.00001,"g1":"r","gd":-0.0007,"g2":"r"},
{"i":135,"ao":0.00136,"a1":"g","ac":0.00042,"a2":"g","gu":0.00019,"g1":"g","gd":-0.00055,"g2":"r"},
{"i":136,"ao":0.00216,"a1":"g","ac":0.00092,"a2":"g","gu":0.00016,"g1":"r","gd":-0.00066,"g2":"g"},
{"i":137,"ao":0.002736,"a1":"g","ac":0.0010714,"a2":"g","gu":0.00016,"g1":"r","gd":-0.00082,"g2":"g"},
{"i":138,"gu":0.00019,"g1":"g","gd":-0.00109,"g2":"g"},
{"i":139,"gu":0.00035,"g1":"g","gd":-0.00156,"g2":"g"},
{"i":140,"gu":0.00062,"g1":"g","gd":-0.001538,"g2":"g"},
{"i":141,"gu":0.00101,"g1":"g"},
{"i":142,"gu":0.001197,"g1":"g"}
]
},
"vconcat":[
{
"width":1225,"height":471,
"layer":[
{"data":{"values":[{}]},"mark":{"type":"rule","color":"#cc0000","strokeWidth":1},
 "encoding":{"y":{"datum":1.29311,"type":"quantitative","scale":{"domain":[1.28667,1.301894],"nice":false,"zero":false,"padding":0},"title":null,
  "axis":{"orient":"right","values":[1.28775,1.2888,1.28985,1.2909,1.29195,1.293,1.29405,1.2951,1.29615,1.2972,1.29825,1.2993,1.30035,1.3014],"labels":false,"grid":true,"tickSize":4,"title":null}}}},
{"data":{"name":"bars"},"mark":{"type":"rule","color":"#000000","strokeWidth":1},
 "encoding":{"x":{"field":"i","type":"quantitative","scale":{"domain":[-0.1875,152.9375],"nice":false,"zero":false,"padding":0},"title":null,
  "axis":{"values":[-0.125,3.875,7.875,11.875,15.875,19.875,23.875,27.875,31.875,35.875,39.875,43.875,47.875,51.875,55.875,59.875,63.875,67.875,71.875,75.875,79.875,83.875,87.875,91.875,95.875,99.875,103.875,107.875,111.875,115.875,119.875,123.875,127.875,131.875,135.875,139.875,143.875,147.875,151.875],"labels":false,"ticks":false,"domain":false,"grid":true,"title":null,"minExtent":0,"maxExtent":0}},
  "y":{"field":"l","type":"quantitative","title":null},"y2":{"field":"h"}}},
{"data":{"name":"bars"},"mark":{"type":"bar","size":4,"stroke":"#000000","strokeWidth":1},
 "encoding":{"x":{"field":"i","type":"quantitative","title":null},"y":{"field":"o","type":"quantitative","title":null},"y2":{"field":"c"},
  "fill":{"condition":{"test":"datum.c >= datum.o","value":"#ffffff"},"value":"#000000"}}},
{"data":{"name":"jaw"},"mark":{"type":"line","color":"#1450dc","strokeWidth":2},
 "encoding":{"x":{"field":"i","type":"quantitative","title":null},"y":{"field":"v","type":"quantitative","title":null}}},
{"data":{"name":"teeth"},"mark":{"type":"line","color":"#ff0000","strokeWidth":2},
 "encoding":{"x":{"field":"i","type":"quantitative","title":null},"y":{"field":"v","type":"quantitative","title":null}}},
{"data":{"name":"lips"},"mark":{"type":"line","color":"#11ee11","strokeWidth":2},
 "encoding":{"x":{"field":"i","type":"quantitative","title":null},"y":{"field":"v","type":"quantitative","title":null}}},
{"data":{"name":"bars"},"transform":[{"filter":"datum.fu == 1"}],
 "mark":{"type":"point","shape":"M0,-1L0.75,0.85L0,0.35L-0.75,0.85Z","size":110,"filled":true,"fill":"#b8b8b8","stroke":"#7a7a7a","strokeWidth":0.6,"opacity":1,"yOffset":-9,"clip":true},
 "encoding":{"x":{"field":"i","type":"quantitative","title":null},"y":{"field":"h","type":"quantitative","title":null}}},
{"data":{"name":"bars"},"transform":[{"filter":"datum.fd == 1"}],
 "mark":{"type":"point","shape":"M0,1L0.75,-0.85L0,-0.35L-0.75,-0.85Z","size":110,"filled":true,"fill":"#b8b8b8","stroke":"#7a7a7a","strokeWidth":0.6,"opacity":1,"yOffset":7,"clip":true},
 "encoding":{"x":{"field":"i","type":"quantitative","title":null},"y":{"field":"l","type":"quantitative","title":null}}},
{"data":{"values":[{}]},
 "mark":{"type":"point","shape":"M0,-1L0.9,-0.05L0.42,-0.05L0.42,1L-0.42,1L-0.42,-0.05L-0.9,-0.05Z","size":361,"filled":true,"fill":"#f4fbe8","stroke":"#8ed84a","strokeWidth":1.6,"opacity":1},
 "encoding":{"x":{"datum":139,"type":"quantitative"},"y":{"datum":1.29362,"type":"quantitative"}}},
{"data":{"name":"ylab"},"mark":{"type":"text","align":"left","baseline":"middle","dx":5,"color":"#000000","font":"Liberation Sans","fontSize":9,"clip":false},
 "encoding":{"x":{"datum":152.9375,"type":"quantitative"},"y":{"field":"p","type":"quantitative","title":null},"text":{"field":"p","type":"quantitative","format":".5f"}}},
{"data":{"values":[{}]},"mark":{"type":"rect","color":"#cc0000","clip":false},
 "encoding":{"x":{"datum":153.27,"type":"quantitative"},"x2":{"datum":158.22},"y":{"datum":1.29293,"type":"quantitative"},"y2":{"datum":1.29329}}},
{"data":{"values":[{}]},"mark":{"type":"text","align":"left","baseline":"middle","color":"#ffffff","font":"Liberation Sans","fontSize":9,"clip":false},
 "encoding":{"x":{"datum":153.52,"type":"quantitative"},"y":{"datum":1.29311,"type":"quantitative"},"text":{"value":"1.29311"}}}
]
},
{
"width":1225,"height":98,
"layer":[
{"data":{"name":"osc"},"mark":{"type":"bar","size":4,"xOffset":-1.5},
 "encoding":{"x":{"field":"i","type":"quantitative","scale":{"domain":[-0.1875,152.9375],"nice":false,"zero":false,"padding":0},"title":null,
  "axis":{"values":[-0.125,3.875,7.875,11.875,15.875,19.875,23.875,27.875,31.875,35.875,39.875,43.875,47.875,51.875,55.875,59.875,63.875,67.875,71.875,75.875,79.875,83.875,87.875,91.875,95.875,99.875,103.875,107.875,111.875,115.875,119.875,123.875,127.875,131.875,135.875,139.875,143.875,147.875,151.875],"labels":false,"ticks":false,"domain":false,"grid":true,"title":null,"minExtent":0,"maxExtent":0}},
  "y":{"field":"ao","type":"quantitative","scale":{"domain":[-0.004439,0.003418],"nice":false,"zero":false,"padding":0},"title":null,
   "axis":{"orient":"right","values":[-0.004439,0,0.003418],"labelExpr":"datum.value < 0 ? '-' + format(-datum.value, '.6f') : format(datum.value, '.6f')","grid":true,"tickSize":4,"labelPadding":1,"labelFlush":true,"labelOverlap":false,"title":null}},
  "y2":{"datum":0},
  "color":{"field":"a1","type":"nominal","scale":{"domain":["g","r"],"range":["#008000","#ff0000"]},"legend":null}}},
{"data":{"values":[{}]},"mark":{"type":"text","align":"left","baseline":"top","dx":4,"dy":4,"color":"#000000","font":"Liberation Sans","fontSize":9.3},
 "encoding":{"x":{"datum":-0.1875,"type":"quantitative"},"y":{"datum":0.003418,"type":"quantitative"},"text":{"value":"AOcust 0.002736"}}}
]
},
{
"width":1225,"height":99,
"layer":[
{"data":{"name":"osc"},"mark":{"type":"bar","size":4,"xOffset":-1.5},
 "encoding":{"x":{"field":"i","type":"quantitative","scale":{"domain":[-0.1875,152.9375],"nice":false,"zero":false,"padding":0},"title":null,
  "axis":{"values":[-0.125,3.875,7.875,11.875,15.875,19.875,23.875,27.875,31.875,35.875,39.875,43.875,47.875,51.875,55.875,59.875,63.875,67.875,71.875,75.875,79.875,83.875,87.875,91.875,95.875,99.875,103.875,107.875,111.875,115.875,119.875,123.875,127.875,131.875,135.875,139.875,143.875,147.875,151.875],"labels":false,"ticks":false,"domain":false,"grid":true,"title":null,"minExtent":0,"maxExtent":0}},
  "y":{"field":"ac","type":"quantitative","scale":{"domain":[-0.0018231,0.0019443],"nice":false,"zero":false,"padding":0},"title":null,
   "axis":{"orient":"right","values":[-0.0018231,0,0.0019443],"labelExpr":"datum.value < 0 ? '-' + format(-datum.value, '.7f') : format(datum.value, '.7f')","grid":true,"tickSize":4,"labelPadding":1,"labelFlush":true,"labelOverlap":false,"title":null}},
  "y2":{"datum":0},
  "color":{"field":"a2","type":"nominal","scale":{"domain":["g","r"],"range":["#008000","#ff0000"]},"legend":null}}},
{"data":{"values":[{}]},"mark":{"type":"text","align":"left","baseline":"top","dx":4,"dy":4,"color":"#000000","font":"Liberation Sans","fontSize":9.3},
 "encoding":{"x":{"datum":-0.1875,"type":"quantitative"},"y":{"datum":0.0019443,"type":"quantitative"},"text":{"value":"ACcust 0.0010714"}}}
]
},
{
"width":1225,"height":99,
"layer":[
{"data":{"name":"osc"},"mark":{"type":"bar","size":4,"xOffset":-1.5},
 "encoding":{"x":{"field":"i","type":"quantitative","scale":{"domain":[-0.1875,152.9375],"nice":false,"zero":false,"padding":0},"title":null,
  "axis":{"orient":"bottom","values":[-0.125,3.875,7.875,11.875,15.875,19.875,23.875,27.875,31.875,35.875,39.875,43.875,47.875,51.875,55.875,59.875,63.875,67.875,71.875,75.875,79.875,83.875,87.875,91.875,95.875,99.875,103.875,107.875,111.875,115.875,119.875,123.875,127.875,131.875,135.875,139.875,143.875,147.875,151.875],
   "labelExpr":"(round(datum.value) % 8 === 0 && round(datum.value) <= 136) ? ['19 Mar 2025','20 Mar 05:00','20 Mar 13:00','20 Mar 21:00','21 Mar 05:00','21 Mar 13:00','21 Mar 21:00','24 Mar 06:00','24 Mar 14:00','24 Mar 22:00','25 Mar 06:00','25 Mar 14:00','25 Mar 22:00','26 Mar 06:00','26 Mar 14:00','26 Mar 22:00','27 Mar 06:00','27 Mar 14:00'][round(datum.value)/8] : ''",
   "tickOpacity":{"condition":{"test":"round(datum.value) % 8 === 0 && round(datum.value) <= 136","value":1},"value":0},
   "grid":true,"tickSize":4,"labelAlign":"left","labelBaseline":"top","labelPadding":1,"labelFlush":false,"labelOverlap":false,"domain":true,"title":null}},
  "y":{"field":"gu","type":"quantitative","scale":{"domain":[-0.001872,0.001973],"nice":false,"zero":false,"padding":0},"title":null,
   "axis":{"orient":"right","values":[-0.001872,0,0.001973],"labelExpr":"datum.value < 0 ? '-' + format(-datum.value, '.6f') : format(datum.value, '.6f')","grid":true,"tickSize":4,"labelPadding":1,"labelFlush":true,"labelOverlap":false,"title":null}},
  "y2":{"datum":0},
  "color":{"field":"g1","type":"nominal","scale":{"domain":["g","r"],"range":["#008000","#ff0000"]},"legend":null}}},
{"data":{"name":"osc"},"mark":{"type":"bar","size":4,"xOffset":-1.5},
 "encoding":{"x":{"field":"i","type":"quantitative","title":null},
  "y":{"field":"gd","type":"quantitative","title":null},
  "y2":{"datum":0},
  "color":{"field":"g2","type":"nominal","legend":null}}},
{"data":{"values":[{}]},"mark":{"type":"text","align":"left","baseline":"top","dx":4,"dy":4,"color":"#000000","font":"Liberation Sans","fontSize":9.3},
 "encoding":{"x":{"datum":-0.1875,"type":"quantitative"},"y":{"datum":0.001973,"type":"quantitative"},"text":{"value":"GatorCust 0.001197 -0.001538"}}}
]
}
]
}
